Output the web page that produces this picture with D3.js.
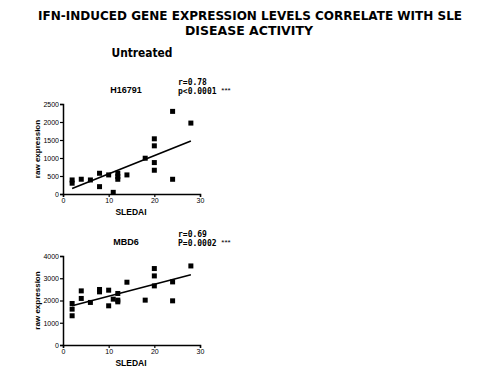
<!DOCTYPE html>
<html>
<head>
<meta charset="utf-8">
<script src="https://cdn.jsdelivr.net/npm/d3@7"></script>
<style>
  body { margin: 0; background: #fff; }
  svg { display: block; }
</style>
</head>
<body>
<svg id="chart" width="500" height="376"></svg>
<script>
// values
const sledaiTicks = [0, 10, 20, 30];

const h16791X = [2, 2, 4, 6, 8, 8, 10, 11, 12, 12, 12, 14, 18, 20, 20, 20, 20, 24, 24, 28];
const h16791Y = [390, 300, 410, 390, 576, 204, 530, 46, 576, 483, 409, 530, 994, 1533, 1338, 873, 660, 2295, 409, 1970];
const h16791Ticks = [0, 500, 1000, 1500, 2000, 2500];
const h16791FitX = [2, 28];
const h16791FitY = [150, 1475];

const mbd6X = [2, 2, 2, 4, 4, 6, 8, 8, 10, 10, 11, 12, 12, 12, 14, 18, 20, 20, 20, 24, 24, 28];
const mbd6Y = [1866, 1612, 1314, 2432, 2092, 1913, 2495, 2388, 2464, 1761, 2061, 2316, 2016, 1940, 2822, 2016, 3436, 3105, 2657, 2836, 1985, 3553];
const mbd6Ticks = [0, 1000, 2000, 3000, 4000];
const mbd6FitX = [2, 28];
const mbd6FitY = [1760, 3160];

const svg = d3.select("#chart");
const titleFont = "'DejaVu Sans', sans-serif";
const plotFont = "'Liberation Sans', Arial, sans-serif";

svg.append("text")
  .attr("x", 250).attr("y", 20)
  .attr("text-anchor", "middle")
  .attr("textLength", 424).attr("lengthAdjust", "spacingAndGlyphs")
  .style("font-family", titleFont).style("font-weight", "bold").style("font-size", "13px")
  .text("IFN-INDUCED GENE EXPRESSION LEVELS CORRELATE WITH SLE");
svg.append("text")
  .attr("x", 249).attr("y", 35)
  .attr("text-anchor", "middle")
  .attr("textLength", 128).attr("lengthAdjust", "spacingAndGlyphs")
  .style("font-family", titleFont).style("font-weight", "bold").style("font-size", "13px")
  .text("DISEASE ACTIVITY");
svg.append("text")
  .attr("x", 142).attr("y", 57)
  .attr("text-anchor", "middle")
  .attr("textLength", 61).attr("lengthAdjust", "spacingAndGlyphs")
  .style("font-family", titleFont).style("font-weight", "bold").style("font-size", "12px")
  .text("Untreated");

function drawPanel(opt) {
  const x = d3.scaleLinear().domain([0, 30]).range([63, 200]);
  const y = d3.scaleLinear().domain([0, opt.yMax]).range([opt.bottom, opt.top]);
  const g = svg.append("g");

  const xAxis = g.append("g")
    .attr("transform", `translate(0,${opt.bottom})`)
    .call(d3.axisBottom(x).tickValues(sledaiTicks).tickFormat(d3.format("d")).tickSize(3).tickPadding(1));
  const yAxis = g.append("g")
    .attr("transform", "translate(63,0)")
    .call(d3.axisLeft(y).tickValues(opt.ticks).tickFormat(d3.format("d")).tickSize(3).tickPadding(1));
  [xAxis, yAxis].forEach(a => {
    a.select(".domain").attr("stroke", "#000").attr("stroke-width", 1.5);
    a.selectAll(".tick line").attr("stroke", "#000").attr("stroke-width", 1.2);
    a.selectAll("text").style("font-family", plotFont).style("font-size", "7px").attr("fill", "#000");
  });

  g.append("line")
    .attr("x1", x(opt.fitX[0])).attr("y1", y(opt.fitY[0]))
    .attr("x2", x(opt.fitX[1])).attr("y2", y(opt.fitY[1]))
    .attr("stroke", "#000").attr("stroke-width", 1.6);

  g.selectAll("rect.pt")
    .data(d3.zip(opt.xs, opt.ys))
    .enter()
    .append("rect")
    .attr("class", "pt")
    .attr("x", d => x(d[0]) - 2.5)
    .attr("y", d => y(d[1]) - 2.5)
    .attr("width", 5).attr("height", 5)
    .attr("fill", "#000");

  g.append("text")
    .attr("x", 126).attr("y", opt.top - 11)
    .attr("text-anchor", "middle")
    .style("font-family", plotFont).style("font-weight", "bold").style("font-size", "9px")
    .text(opt.gene);

  g.append("text")
    .attr("x", 178).attr("y", opt.top - 19)
    .style("font-family", "'DejaVu Sans Mono', monospace").style("font-weight", "bold").style("font-size", "8px")
    .text(opt.r);
  const pt = g.append("text")
    .attr("x", 178).attr("y", opt.top - 10)
    .style("font-family", "'DejaVu Sans Mono', monospace").style("font-weight", "bold").style("font-size", "8px")
    .text(opt.p + " ");
  pt.append("tspan").attr("dy", -1).style("font-size", "8px").style("font-weight", "normal")
    .style("font-family", plotFont).text("***");

  g.append("text")
    .attr("transform", `translate(40,${(opt.top + opt.bottom) / 2}) rotate(-90)`)
    .attr("text-anchor", "middle")
    .style("font-family", plotFont).style("font-weight", "bold").style("font-size", "8px")
    .text("raw expression");

  g.append("text")
    .attr("x", 131).attr("y", opt.bottom + 21)
    .attr("text-anchor", "middle")
    .style("font-family", plotFont).style("font-weight", "bold").style("font-size", "8.5px")
    .text("SLEDAI");
}

drawPanel({
  gene: "H16791", r: "r=0.78", p: "p<0.0001",
  xs: h16791X, ys: h16791Y, ticks: h16791Ticks, yMax: 2500,
  fitX: h16791FitX, fitY: h16791FitY, top: 104, bottom: 194
});
drawPanel({
  gene: "MBD6", r: "r=0.69", p: "P=0.0002",
  xs: mbd6X, ys: mbd6Y, ticks: mbd6Ticks, yMax: 4000,
  fitX: mbd6FitX, fitY: mbd6FitY, top: 256, bottom: 345
});
</script>
</body>
</html>
